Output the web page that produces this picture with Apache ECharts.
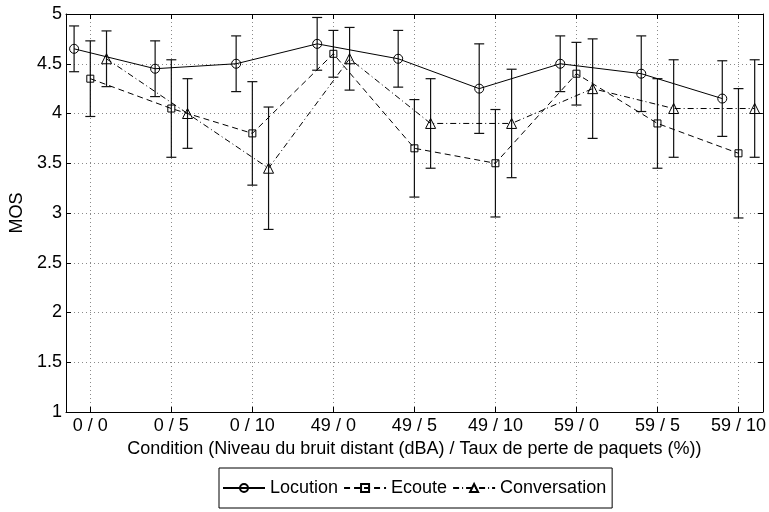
<!DOCTYPE html>
<html>
<head>
<meta charset="utf-8">
<script src="https://cdn.jsdelivr.net/npm/echarts@6/dist/echarts.min.js"></script>
<style>html,body{margin:0;padding:0;background:#fff}#c{width:769px;height:512px}</style>
</head>
<body>
<div id="c"></div>
<script>
const categories = ['0 / 0','0 / 5','0 / 10','49 / 0','49 / 5','49 / 10','59 / 0','59 / 5','59 / 10'];
const yTicks = [1, 5, 0.5]; // min, max, step of the MOS axis
const locution = [4.65, 4.45, 4.50, 4.70, 4.55, 4.25, 4.50, 4.40, 4.15];
const locutionErr = [0.23, 0.28, 0.28, 0.265, 0.285, 0.45, 0.28, 0.38, 0.38];
const ecoute = [4.35, 4.05, 3.80, 4.60, 3.65, 3.50, 4.40, 3.90, 3.60];
const ecouteErr = [0.38, 0.49, 0.52, 0.235, 0.49, 0.54, 0.315, 0.45, 0.65];
const conversation = [4.55, 4.00, 3.45, 4.55, 3.90, 3.90, 4.25, 4.05, 4.05];
const conversationErr = [0.28, 0.35, 0.615, 0.315, 0.45, 0.545, 0.50, 0.49, 0.49];

const FONT = "'Liberation Sans', Arial, Helvetica, sans-serif";
const tickVals = categories.map((c, i) => i + 1);

function lineData(vals, off) { return vals.map((v, i) => [i + 1 + off, v]); }
function errData(vals, errs, off) { return vals.map((v, i) => [i + 1 + off, v - errs[i], v + errs[i]]); }

function errSeries(vals, errs, off) {
  return {
    type: 'custom',
    silent: true,
    z: 3,
    encode: { x: 0, y: [1, 2] },
    data: errData(vals, errs, off),
    renderItem: function (params, api) {
      const x = api.value(0);
      const lo = api.coord([x, api.value(1)]);
      const hi = api.coord([x, api.value(2)]);
      const hw = 5;
      const st = { stroke: '#111', lineWidth: 1.2 };
      return {
        type: 'group',
        children: [
          { type: 'line', shape: { x1: hi[0], y1: hi[1], x2: lo[0], y2: lo[1] }, style: st },
          { type: 'line', shape: { x1: hi[0] - hw, y1: hi[1], x2: hi[0] + hw, y2: hi[1] }, style: st },
          { type: 'line', shape: { x1: lo[0] - hw, y1: lo[1], x2: lo[0] + hw, y2: lo[1] }, style: st }
        ]
      };
    }
  };
}

function lineSeries(name, vals, off, symbol, size, dash) {
  return {
    name: name,
    type: 'line',
    z: 4,
    data: lineData(vals, off),
    symbol: symbol,
    symbolSize: size,
    showAllSymbol: true,
    lineStyle: { color: '#000', width: 1, type: dash },
    itemStyle: { color: 'rgba(0,0,0,0)', borderColor: '#000', borderWidth: 1 },
    emphasis: { disabled: true }
  };
}

const chart = echarts.init(document.getElementById('c'), null, { renderer: 'canvas' });
const axisLineStyle = { color: '#000', width: 1 };
chart.setOption({
  animation: false,
  backgroundColor: '#fff',
  textStyle: { fontFamily: FONT },
  grid: { left: 66, right: 5, top: 14, bottom: 100, containLabel: false },
  legend: {
    data: ['Locution', 'Ecoute', 'Conversation'],
    left: 219,
    top: 468,
    orient: 'horizontal',
    backgroundColor: '#fff',
    borderColor: '#000',
    borderWidth: 1,
    borderRadius: 0,
    padding: [11, 6, 11, 3],
    itemGap: 5,
    itemWidth: 42,
    itemHeight: 10,
    selectedMode: false,
    textStyle: { fontFamily: FONT, fontSize: 18, color: '#000' }
  },
  xAxis: [
    {
      type: 'value',
      min: 0.7,
      max: 9.3,
      position: 'bottom',
      axisLine: { show: true, onZero: false, lineStyle: axisLineStyle },
      axisTick: { show: true, inside: true, length: 5, customValues: tickVals, lineStyle: axisLineStyle },
      axisLabel: {
        customValues: tickVals,
        formatter: function (v) { return categories[Math.round(v) - 1] || ''; },
        fontSize: 18, color: '#000', margin: 5, fontFamily: FONT
      },
      splitLine: { show: true, lineStyle: { color: '#8a8a8a', width: 1, type: [1, 3] } },
      name: 'Condition (Niveau du bruit distant (dBA) / Taux de perte de paquets (%))',
      nameLocation: 'middle',
      nameGap: 22,
      nameTextStyle: { fontSize: 18, color: '#000', fontFamily: FONT }
    },
    {
      type: 'value',
      min: 0.7,
      max: 9.3,
      position: 'top',
      axisLine: { show: true, onZero: false, lineStyle: axisLineStyle },
      axisTick: { show: true, inside: true, length: 5, customValues: tickVals, lineStyle: axisLineStyle },
      axisLabel: { show: false },
      splitLine: { show: false }
    }
  ],
  yAxis: [
    {
      type: 'value',
      min: yTicks[0],
      max: yTicks[1],
      interval: yTicks[2],
      position: 'left',
      axisLine: { show: true, onZero: false, lineStyle: axisLineStyle },
      axisTick: { show: true, inside: true, length: 5, lineStyle: axisLineStyle },
      axisLabel: { fontSize: 18, color: '#000', margin: 4, fontFamily: FONT },
      splitLine: { show: true, lineStyle: { color: '#8a8a8a', width: 1, type: [1, 3] } },
      name: 'MOS',
      nameLocation: 'middle',
      nameGap: 33,
      nameTextStyle: { fontSize: 18, color: '#000', fontFamily: FONT }
    },
    {
      type: 'value',
      min: yTicks[0],
      max: yTicks[1],
      interval: yTicks[2],
      position: 'right',
      axisLine: { show: true, onZero: false, lineStyle: axisLineStyle },
      axisTick: { show: true, inside: true, length: 5, lineStyle: axisLineStyle },
      axisLabel: { show: false },
      splitLine: { show: false }
    }
  ],
  series: [
    lineSeries('Locution', locution, -0.2, 'circle', 9, 'solid'),
    lineSeries('Ecoute', ecoute, 0, 'rect', 7, [6, 4]),
    lineSeries('Conversation', conversation, 0.2, 'triangle', 10, [6, 3, 1, 3]),
    errSeries(locution, locutionErr, -0.2),
    errSeries(ecoute, ecouteErr, 0),
    errSeries(conversation, conversationErr, 0.2)
  ]
});
</script>
</body>
</html>
